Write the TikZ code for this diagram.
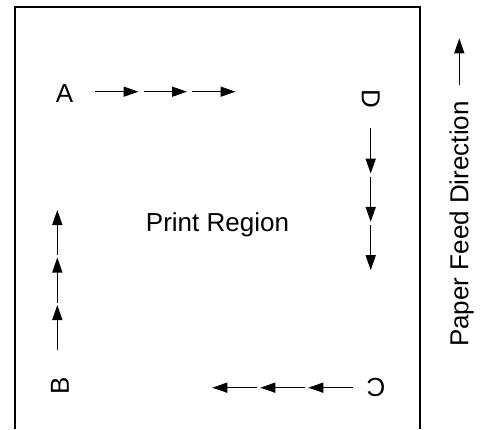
\documentclass[tikz,border=0pt]{standalone}
\usepackage{fontspec}
\setmainfont{Liberation Sans}
\usetikzlibrary{arrows.meta}
\begin{document}
\begin{tikzpicture}[x=1pt,y=1pt,
  frame/.style={line width=2pt},
  feed/.style={line width=1.5pt,-{Triangle[length=15pt,width=10pt]}},
  label node/.style={inner sep=0pt,font=\fontsize{26}{31}\selectfont}]

  \useasboundingbox (0,0) rectangle (481,429);

  % paper outline, open at the bottom
  \draw[frame] (15,0) |- (420,422.3) -- (420,0);

  \node[label node,anchor=base] (region) at (217.5,197.6) {Print Region};
  \node[label node] (A) at (64.5,335) {A};
  \node[label node,rotate=-90] (D) at (370.7,330) {D};
  \node[label node,rotate=180] (C) at (376,42) {C};
  \node[label node,rotate=90] (B) at (60,43.5) {B};
  \node[label node,anchor=base,rotate=90] (paper) at (468.3,205) {Paper Feed Direction};

  % scan arrows
  \foreach \i in {0,1,2} {
    \coordinate (a\i) at (95+48.5*\i,337.3);
    \coordinate (a\i') at (138.5+48.5*\i,337.3);
    \draw[feed] (a\i) -- (a\i');
    \coordinate (d\i) at (370.7,300.7-48.3*\i);
    \coordinate (d\i') at (370.7,255.4-48.3*\i);
    \draw[feed] (d\i) -- (d\i');
    \coordinate (c\i) at (353.3-48*\i,41.3);
    \coordinate (c\i') at (308.3-48*\i,41.3);
    \draw[feed] (c\i) -- (c\i');
    \coordinate (b\i) at (57.3,79+47.5*\i);
    \coordinate (b\i') at (57.3,124+47.5*\i);
    \draw[feed] (b\i) -- (b\i');
  }

  \coordinate (p0) at (459.3,344);
  \coordinate (p1) at (459.3,390.7);
  \draw[feed] (p0) -- (p1);
\end{tikzpicture}
\end{document}
